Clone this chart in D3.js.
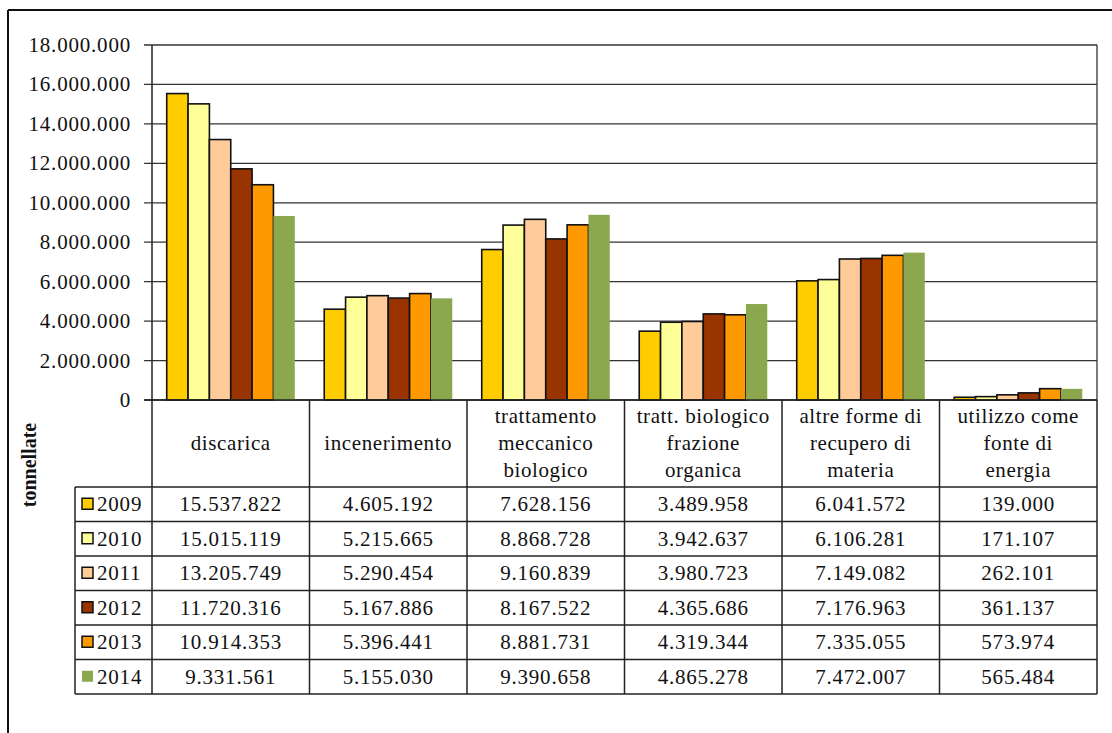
<!DOCTYPE html>
<html><head><meta charset="utf-8">
<script src="https://cdn.jsdelivr.net/npm/d3@7"></script>
<style>html,body{margin:0;padding:0;background:#fff;}svg{display:block;} text{font-family:"Liberation Serif","Times New Roman",serif;}</style>
</head><body>
<svg id="chart" width="1112" height="733"></svg>
<script>
const categories = [
  ["discarica"],
  ["incenerimento"],
  ["trattamento","meccanico","biologico"],
  ["tratt. biologico","frazione","organica"],
  ["altre forme di","recupero di","materia"],
  ["utilizzo come","fonte di","energia"]
];
const years = ["2009","2010","2011","2012","2013","2014"];
const colors = ["#FFCC00","#FFFF99","#FFCC99","#993300","#FF9900","#8CA84F"];
const v2009 = [15537822,4605192,7628156,3489958,6041572,139000];
const v2010 = [15015119,5215665,8868728,3942637,6106281,171107];
const v2011 = [13205749,5290454,9160839,3980723,7149082,262101];
const v2012 = [11720316,5167886,8167522,4365686,7176963,361137];
const v2013 = [10914353,5396441,8881731,4319344,7335055,573974];
const v2014 = [9331561,5155030,9390658,4865278,7472007,565484];
const series = [v2009,v2010,v2011,v2012,v2013,v2014];
const yTicks = [0,2e6,4e6,6e6,8e6,10e6,12e6,14e6,16e6,18e6];
const yTitle = "tonnellate";

const fmt = n => String(n).replace(/\B(?=(\d{3})+(?!\d))/g, ".");
const svg = d3.select("#chart");

function txt(x, y, s, opts={}) {
  return svg.append("text").attr("x",x).attr("y",y)
    .attr("font-size", opts.size || 21)
    .attr("letter-spacing", opts.ls != null ? opts.ls : 0.6)
    .attr("font-weight", opts.weight || "normal")
    .attr("fill", opts.fill || "#111")
    .attr("text-anchor", opts.anchor || "middle")
    .text(s);
}

const x0 = d3.scaleBand().domain(d3.range(categories.length)).range([152, 1097]).padding(0);
const x1 = d3.scaleBand().domain(years).range([0, x0.bandwidth()]).paddingInner(0).paddingOuter(0.69);
const y = d3.scaleLinear().domain([0, 18e6]).range([400, 45]);

// outer frame
svg.append("line").attr("x1",8).attr("x2",1112).attr("y1",10).attr("y2",10).attr("stroke","#111").attr("stroke-width",2);
svg.append("line").attr("x1",8).attr("x2",8).attr("y1",10).attr("y2",733).attr("stroke","#111").attr("stroke-width",2);

// gridlines
svg.append("g").selectAll("line").data(yTicks).join("line")
  .attr("x1",144).attr("x2",1097)
  .attr("y1",d=>y(d)).attr("y2",d=>y(d))
  .attr("stroke","#333").attr("stroke-width",1.3);
svg.append("line").attr("x1",1097).attr("x2",1097).attr("y1",y(18e6)).attr("y2",400).attr("stroke","#333").attr("stroke-width",1.3);
svg.append("line").attr("x1",152).attr("x2",152).attr("y1",y(18e6)).attr("y2",400).attr("stroke","#222").attr("stroke-width",1.5);

// y tick labels
yTicks.forEach(t => {
  txt(131, y(t)+7, fmt(t), {anchor:"end", size:21, ls:0.8});
});

// bars
series.forEach((vals, si) => {
  svg.append("g").selectAll("rect").data(vals).join("rect")
    .attr("x",(d,i)=>x0(i)+x1(years[si]))
    .attr("width",x1.bandwidth())
    .attr("y",d=>y(d))
    .attr("height",d=>400-y(d))
    .attr("fill",colors[si])
    .attr("stroke", si===5 ? "none" : "#111")
    .attr("stroke-width",1.6);
});

// table
const headTop = 400, headBot = 487, rowH = 34.5;
const tBot = headBot + rowH*years.length;
const tl = svg.append("g").attr("stroke","#222").attr("stroke-width",1.5);
for (let i=0;i<=categories.length;i++){
  const xx = i<categories.length ? x0(i) : 1097;
  tl.append("line").attr("x1",xx).attr("x2",xx).attr("y1",headTop).attr("y2",tBot);
}
tl.append("line").attr("x1",144).attr("x2",1097).attr("y1",400).attr("y2",400);
for (let r=0;r<=years.length;r++){
  const yy = headBot + r*rowH;
  tl.append("line").attr("x1",75).attr("x2",1097).attr("y1",yy).attr("y2",yy);
}
tl.append("line").attr("x1",75).attr("x2",75).attr("y1",headBot).attr("y2",tBot);

// category labels
categories.forEach((lines,i) => {
  const cx = x0(i) + x0.bandwidth()/2;
  const lh = 27;
  const start = (headTop+headBot)/2 - (lines.length-1)*lh/2 + 6;
  lines.forEach((l,j) => txt(cx, start + j*lh, l, {size:21, ls:0.6}));
});

// legend + values
years.forEach((yr, r) => {
  const cy = headBot + r*rowH + rowH/2;
  svg.append("rect").attr("x",82).attr("y",cy-6).attr("width",11).attr("height",11)
    .attr("fill",colors[r]).attr("stroke", r===5 ? "none":"#111").attr("stroke-width",1.5);
  txt(97, cy+7, yr, {anchor:"start", size:21, ls:0.8});
  series[r].forEach((v,i) => {
    txt(x0(i)+x0.bandwidth()/2, cy+7, fmt(v), {size:21, ls:0.8});
  });
});

// y title
svg.append("text").attr("transform","translate(36,465) rotate(-90)")
  .attr("font-size",20).attr("font-weight","bold")
  .attr("text-anchor","middle").attr("fill","#111").text(yTitle);
</script>
</body></html>
